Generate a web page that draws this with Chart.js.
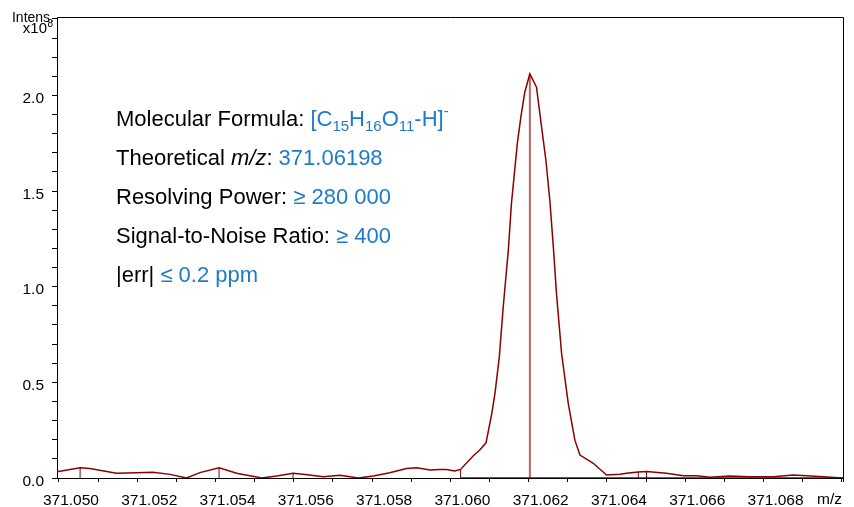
<!DOCTYPE html>
<html>
<head>
<meta charset="utf-8">
<script src="https://cdn.jsdelivr.net/npm/chart.js@4/dist/chart.umd.min.js"></script>
<style>
html,body{margin:0;padding:0;background:#fff;}
#wrap{position:relative;width:854px;height:507px;}
canvas{display:block;}
</style>
</head>
<body>
<div id="wrap"><canvas id="c" width="854" height="507"></canvas></div>
<script>
// m/z values of the profile spectrum (x) and intensity (x10^8)
const profileMz = [
  371.04995, 371.05054, 371.05079, 371.05147, 371.05198, 371.05240, 371.05284, 371.05326,
  371.05360, 371.05409, 371.05454, 371.05518, 371.05556, 371.05598, 371.05624, 371.05675,
  371.05718, 371.05765, 371.05803, 371.05845, 371.05888, 371.05914, 371.05948, 371.05973,
  371.05990, 371.06011, 371.06026, 371.06058, 371.06075, 371.06091, 371.06105, 371.06114,
  371.06125, 371.06135, 371.06148, 371.06156, 371.06171, 371.06180, 371.06190, 371.06203,
  371.06220, 371.06233, 371.06244, 371.06254, 371.06263, 371.06271, 371.06284, 371.06301,
  371.06318, 371.06331, 371.06365, 371.06399, 371.06433, 371.06450, 371.06480, 371.06501,
  371.06552, 371.06595, 371.06629, 371.06663, 371.06714, 371.06765, 371.06825, 371.06876,
  371.06910, 371.06952, 371.07003
];
const profileIntensity = [
  0.033, 0.054, 0.050, 0.025, 0.028, 0.030, 0.019, 0.000,
  0.028, 0.054, 0.025, 0.000, 0.010, 0.025, 0.020, 0.007,
  0.014, 0.000, 0.010, 0.028, 0.050, 0.054, 0.042, 0.045,
  0.045, 0.037, 0.045, 0.115, 0.146, 0.184, 0.329, 0.444,
  0.633, 0.895, 1.191, 1.436, 1.749, 1.887, 2.017, 2.113,
  2.043, 1.834, 1.661, 1.452, 1.208, 0.965, 0.653, 0.392,
  0.198, 0.120, 0.077, 0.016, 0.020, 0.025, 0.031, 0.034,
  0.025, 0.012, 0.012, 0.004, 0.010, 0.007, 0.007, 0.016,
  0.012, 0.007, 0.000
];
// centroid sticks
const stickMz = [371.05054, 371.05409, 371.05598, 371.06026, 371.06501, 371.06480];
const stickIntensity = [0.054, 0.054, 0.025, 0.045, 0.034, 0.031];
const mainStickMz = 371.06203;
const mainStickIntensity = 2.113;

// axis settings
const xMin = 371.04995, xMax = 371.07003, xStep = 0.001;
const yMin = 0, yMax = 2.41, yStep = 0.1;
const xAxisUnit = 'm/z';
const yAxisTitle = 'Intens.';
const yAxisExp = ['x10', '8'];

// annotation lines: [text, colour-key, style]
const infoLines = [
  [['Molecular Formula: ', 'k'], ['[C', 'b'], ['15', 'b', 'sub'], ['H', 'b'], ['16', 'b', 'sub'], ['O', 'b'], ['11', 'b', 'sub'], ['-H]', 'b'], ['-', 'b', 'sup']],
  [['Theoretical ', 'k'], ['m/z', 'k', 'it'], [': ', 'k'], ['371.06198', 'b']],
  [['Resolving Power: ', 'k'], ['\u2265 280 000', 'b']],
  [['Signal-to-Noise Ratio: ', 'k'], ['\u2265 400', 'b']],
  [['|err| ', 'k'], ['\u2264 0.2 ppm', 'b']]
];

const FONT = '"Liberation Sans", Arial, sans-serif';
const DARKRED = '#8b0000';
const BLUE = '#1f7bc7';
const TICKSIZE = 15.5;

// build datasets
const profileData = profileMz.map((x, i) => ({x: x, y: profileIntensity[i]}));
const stickData = [];
stickMz.forEach((x, i) => {
  stickData.push({x: x, y: 0}, {x: x, y: stickIntensity[i]}, {x: x, y: null});
});
// red baseline under the centroid region
const baseData = [{x: stickMz[3], y: 0}, {x: xMax, y: 0}];
const mainStickData = [{x: mainStickMz, y: 0}, {x: mainStickMz, y: mainStickIntensity}];

const overlay = {
  id: 'overlay',
  afterDraw(chart) {
    const ctx = chart.ctx;
    const a = chart.chartArea;
    ctx.save();
    // frame (top and right)
    ctx.strokeStyle = '#000';
    ctx.lineWidth = 1;
    ctx.beginPath();
    ctx.moveTo(a.left, a.top + 0.5);
    ctx.lineTo(a.right + 0.5, a.top + 0.5);
    ctx.lineTo(a.right + 0.5, a.bottom + 4);
    ctx.stroke();
    // axis title
    ctx.fillStyle = '#000';
    ctx.textBaseline = 'alphabetic';
    ctx.font = '14px ' + FONT;
    ctx.textAlign = 'right';
    ctx.fillText(yAxisTitle, 54, 22);
    ctx.font = '10px ' + FONT;
    ctx.fillText(yAxisExp[1], 53, 27);
    ctx.font = '15px ' + FONT;
    ctx.fillText(yAxisExp[0], 47, 33);
    // x unit label
    ctx.font = TICKSIZE + 'px ' + FONT;
    ctx.fillText(xAxisUnit, 842, 504);
    // info text
    ctx.textAlign = 'left';
    const x0 = 116, y0 = 126, dy = 39;
    infoLines.forEach((segs, li) => {
      let x = x0;
      const yb = y0 + li * dy;
      segs.forEach(s => {
        const [t, col, st] = s;
        let size = 22, yy = yb, style = '';
        if (st === 'sub') { size = 15; yy = yb + 5; }
        if (st === 'sup') { size = 15; yy = yb - 10; }
        if (st === 'it') style = 'italic ';
        ctx.font = style + size + 'px ' + FONT;
        ctx.fillStyle = col === 'b' ? BLUE : '#000';
        ctx.fillText(t, x, yy);
        x += ctx.measureText(t).width;
      });
    });
    ctx.restore();
  }
};

new Chart(document.getElementById('c'), {
  type: 'line',
  data: {
    datasets: [
      {data: mainStickData, borderColor: 'rgba(170,60,60,0.8)', borderWidth: 2, pointRadius: 0, tension: 0, order: 3},
      {data: baseData, borderColor: DARKRED, borderWidth: 1.5, pointRadius: 0, tension: 0, order: 2},
      {data: stickData, borderColor: DARKRED, borderWidth: 1, pointRadius: 0, tension: 0, spanGaps: false, order: 2},
      {data: profileData, borderColor: DARKRED, borderWidth: 1.5, pointRadius: 0, tension: 0, order: 1}
    ]
  },
  options: {
    responsive: false,
    animation: false,
    events: [],
    layout: {padding: {top: 17, right: 11, left: 0, bottom: 0}},
    plugins: {legend: {display: false}, tooltip: {enabled: false}},
    scales: {
      x: {
        type: 'linear', min: xMin, max: xMax,
        border: {display: true, color: '#000', width: 1},
        grid: {display: true, drawOnChartArea: false, drawTicks: true, tickLength: 4, color: '#000', lineWidth: 1},
        ticks: {
          stepSize: xStep, includeBounds: false, autoSkip: false, maxRotation: 0, minRotation: 0,
          color: '#000', font: {family: FONT, size: TICKSIZE}, padding: 9, labelOffset: 12,
          callback: (v) => {
            const k = Math.round(v * 1000);
            if (k >= 371070) return '';
            return (k % 2 === 0) ? (k / 1000).toFixed(3) : '';
          }
        },
        afterFit: (s) => { s.height = 29; s.paddingLeft = 0; s.paddingRight = 0; }
      },
      y: {
        type: 'linear', min: yMin, max: yMax,
        border: {display: true, color: '#000', width: 1},
        grid: {display: true, drawOnChartArea: false, drawTicks: true, tickLength: 5, color: '#000', lineWidth: 1},
        ticks: {
          stepSize: yStep, includeBounds: false, autoSkip: false,
          color: '#000', font: {family: FONT, size: TICKSIZE}, padding: 8, labelOffset: 3.5,
          callback: (v) => {
            const k = Math.round(v * 10);
            return (k % 5 === 0) ? (k / 10).toFixed(1) : '';
          }
        },
        afterFit: (s) => { s.width = 57; s.paddingTop = 0; s.paddingBottom = 0; }
      }
    }
  },
  plugins: [overlay]
});
</script>
</body>
</html>
